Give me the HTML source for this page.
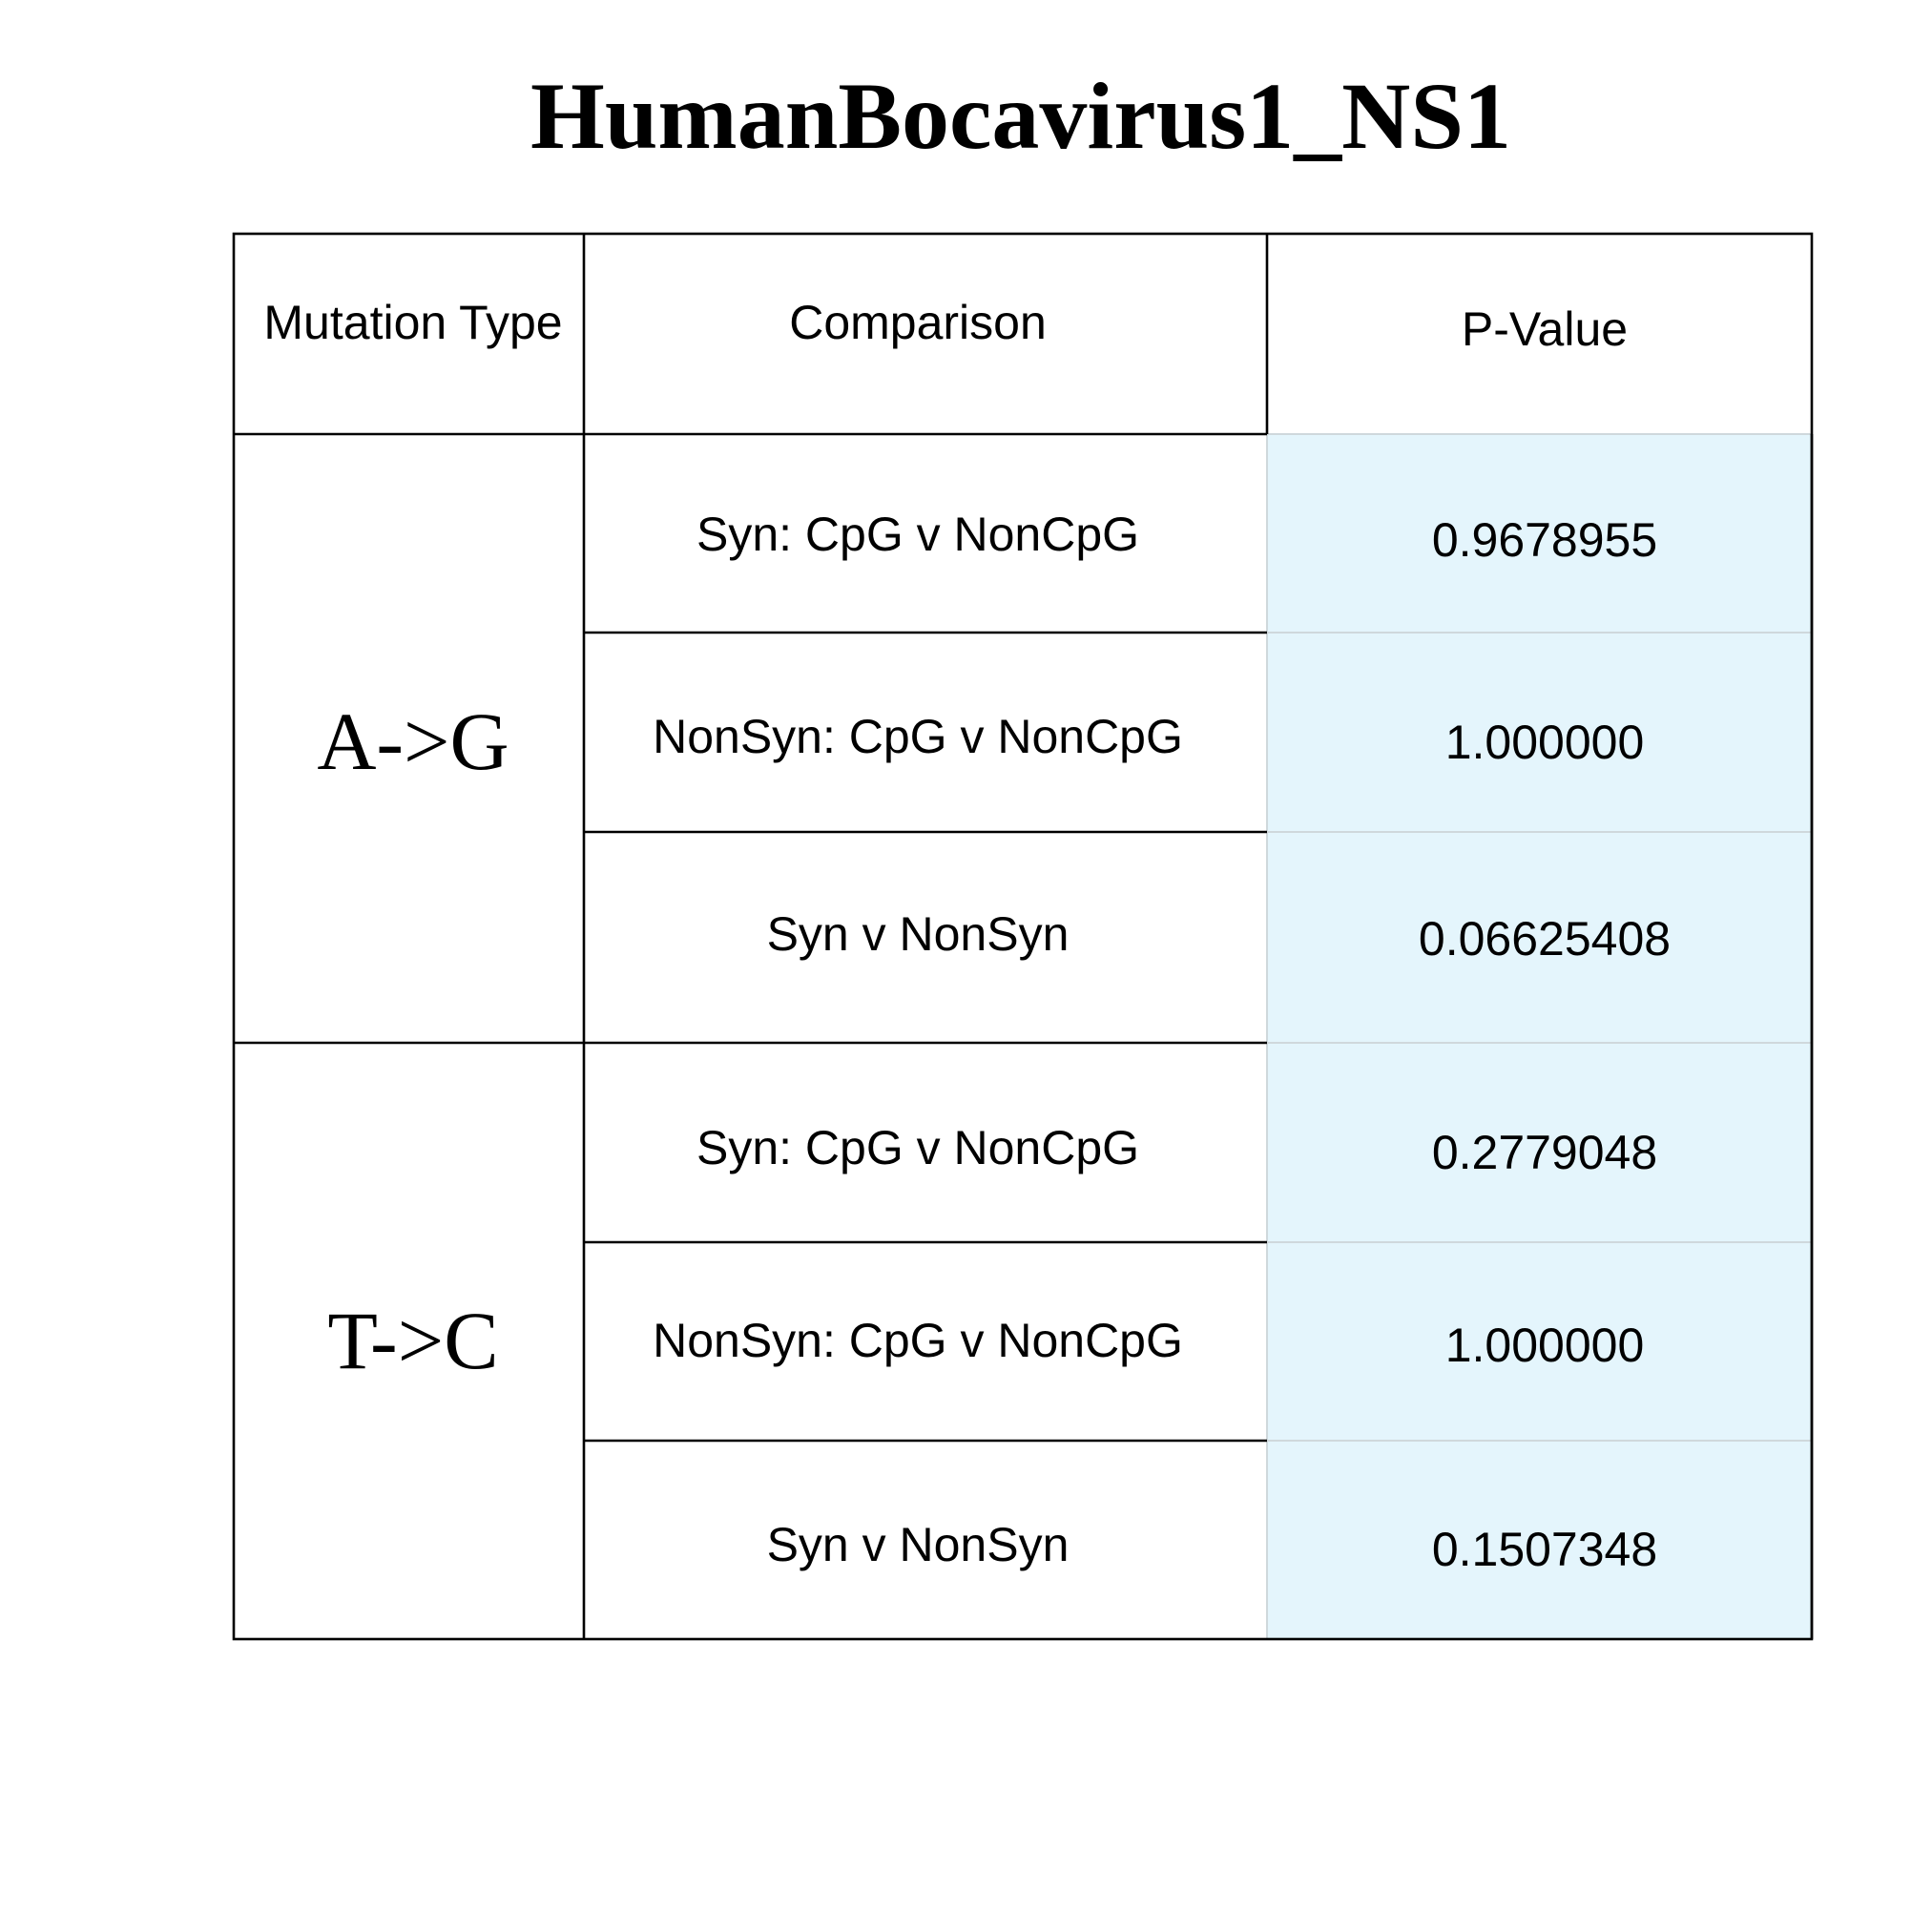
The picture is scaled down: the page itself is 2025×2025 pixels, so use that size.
<!DOCTYPE html>
<html><head><style>body{margin:0;background:#fff}svg{display:block}</style></head><body>
<svg width="2025" height="2025" viewBox="0 0 2025 2025" xmlns="http://www.w3.org/2000/svg">
<rect width="2025" height="2025" fill="#fff"/>
<text x="1070" y="155" text-anchor="middle" font-family="Liberation Serif, serif" font-weight="bold" font-size="100">HumanBocavirus1_NS1</text>
<g fill="#e4f5fc" stroke="#cfd8dc" stroke-width="2">
<rect x="1328" y="455" width="571" height="208"/>
<rect x="1328" y="663" width="571" height="209"/>
<rect x="1328" y="872" width="571" height="221"/>
<rect x="1328" y="1093" width="571" height="209"/>
<rect x="1328" y="1302" width="571" height="208"/>
<rect x="1328" y="1510" width="571" height="208"/>
</g>
<g stroke="#000" stroke-width="2.6" fill="none">
<rect x="245" y="245" width="1654" height="1473"/>
<line x1="612" y1="245" x2="612" y2="1718"/>
<line x1="1328" y1="245" x2="1328" y2="455"/>
<line x1="245" y1="455" x2="1328" y2="455"/>
<line x1="612" y1="663" x2="1328" y2="663"/>
<line x1="612" y1="872" x2="1328" y2="872"/>
<line x1="245" y1="1093" x2="1328" y2="1093"/>
<line x1="612" y1="1302" x2="1328" y2="1302"/>
<line x1="612" y1="1510" x2="1328" y2="1510"/>
<line x1="1899" y1="455" x2="1899" y2="1718"/>
</g>
<g font-family="Liberation Sans, sans-serif" font-size="50" text-anchor="middle" fill="#000">
<text x="433" y="355">Mutation Type</text>
<text x="962" y="355">Comparison</text>
<text x="1619" y="362">P-Value</text>
<text x="962" y="577">Syn: CpG v NonCpG</text>
<text x="1619" y="583">0.9678955</text>
<text x="962" y="789">NonSyn: CpG v NonCpG</text>
<text x="1619" y="795">1.000000</text>
<text x="962" y="996">Syn v NonSyn</text>
<text x="1619" y="1001">0.06625408</text>
<text x="962" y="1220">Syn: CpG v NonCpG</text>
<text x="1619" y="1225">0.2779048</text>
<text x="962" y="1422">NonSyn: CpG v NonCpG</text>
<text x="1619" y="1427">1.000000</text>
<text x="962" y="1636">Syn v NonSyn</text>
<text x="1619" y="1641">0.1507348</text>
</g>
<g font-family="Liberation Serif, serif" font-size="86" text-anchor="middle" fill="#000">
<text x="433" y="806">A-&gt;G</text>
<text x="433" y="1434">T-&gt;C</text>
</g>
</svg>
</body></html>
